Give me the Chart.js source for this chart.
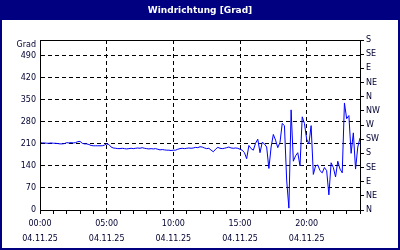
<!DOCTYPE html>
<html>
<head>
<meta charset="utf-8">
<style>
  html, body { margin: 0; padding: 0; background: #ffffff; }
  canvas { display: block; }
</style>
</head>
<body>
<canvas id="chart" width="400" height="250"></canvas>
<script src="https://cdn.jsdelivr.net/npm/chart.js@4/dist/chart.umd.min.js"></script>
<script>
const chartTitle = 'Windrichtung [Grad]';
const unitLabel = 'Grad';
const dateLabel = '04.11.25';

// one reading every 10 minutes, starting 00:00
const stepMinutes = 10;
const hourTicks = [0, 1, 2, 3, 4, 5, 6, 7, 8, 9, 10, 11, 12, 13, 14, 15, 16, 17, 18, 19, 20, 21, 22, 23, 24];
const labeledHours = [0, 5, 10, 15, 20];
const gradTicks = [0, 70, 140, 210, 280, 350, 420, 490];
const compassTicks = [0, 45, 90, 135, 180, 225, 270, 315, 360, 405, 450, 495, 540];
const compassLabels = ['N', 'NE', 'E', 'SE', 'S', 'SW', 'W', 'NW', 'N', 'NE', 'E', 'SE', 'S'];

const direction = [
  214, 213, 213, 212, 212, 213, 212, 212, 211, 210,
  210, 211, 214, 213, 214, 213, 214, 217, 218, 212,
  210, 210, 208, 205, 204, 204, 204, 204, 204, 206,
  210, 208, 200, 197, 196, 195, 195, 196, 195, 194,
  195, 196, 195, 196, 197, 196, 198, 196, 195, 194,
  195, 194, 195, 193, 191, 192, 191, 190, 190, 189,
  190, 190, 193, 195, 196, 195, 196, 197, 196, 197,
  199, 198, 201, 200, 197, 195, 196, 190, 185, 193,
  199, 196, 195, 196, 198, 200, 197, 196, 197, 196,
  193, 190, 182, 163, 205, 195, 190, 212, 225, 182,
  215, 210, 200, 132, 200, 240, 222, 198, 215, 275,
  268, 95, 6, 318, 155, 172, 182, 140, 296, 275,
  225, 210, 268, 113, 140, 143, 125, 118, 135, 125,
  48, 150, 135, 105, 155, 130, 118, 340, 290, 300,
  180, 245, 130, 200, 229,
];

const navy = '#000080';
const textColor = '#000033';
const gridColor = '#000000';

Chart.defaults.font.family = 'DejaVu Sans';
Chart.defaults.font.size = 8;
Chart.defaults.color = textColor;

const points = direction.map((value, i) => ({ x: (i * stepMinutes) / 60, y: value }));

function pad2(n) {
  return String(n).padStart(2, '0');
}

const frame = {
  id: 'frame',
  beforeDraw(chart) {
    const { ctx, width } = chart;
    ctx.save();
    ctx.fillStyle = '#ffffff';
    ctx.fillRect(0, 0, width, chart.height);
    ctx.fillStyle = navy;
    ctx.fillRect(0, 0, width, 20);
    ctx.restore();
  },
  afterDraw(chart) {
    const {
      ctx,
      chartArea: { left, top, right, bottom },
    } = chart;
    ctx.save();
    ctx.strokeStyle = '#000000';
    ctx.lineWidth = 1;
    ctx.strokeRect(left + 0.5, top + 0.5, right - left, bottom - top);

    ctx.fillStyle = textColor;
    ctx.font = '8px "DejaVu Sans"';
    ctx.textAlign = 'right';
    ctx.textBaseline = 'middle';
    ctx.fillText(unitLabel, left - 4, top + 5);

    ctx.strokeStyle = navy;
    ctx.lineWidth = 2;
    ctx.strokeRect(1, 1, chart.width - 2, chart.height - 2);
    ctx.restore();
  },
};

// eslint-disable-next-line no-unused-vars
const chart = new Chart(document.getElementById('chart'), {
  type: 'line',
  data: {
    datasets: [
      {
        data: points,
        borderColor: '#0000ff',
        borderWidth: 1,
        pointRadius: 0,
        tension: 0,
        fill: false,
        xAxisID: 'x',
        yAxisID: 'y',
      },
    ],
  },
  options: {
    responsive: false,
    devicePixelRatio: 1,
    animation: false,
    events: [],
    layout: {
      padding: { left: 0, right: 0, top: 0, bottom: 2 },
    },
    plugins: {
      legend: { display: false },
      tooltip: { enabled: false },
      title: {
        display: true,
        text: chartTitle,
        color: '#ffffff',
        font: { family: 'DejaVu Sans', size: 9, weight: 'bold', lineHeight: 1.2 },
        padding: { top: 5, bottom: 24.2 },
      },
    },
    scales: {
      x: {
        type: 'linear',
        position: 'bottom',
        min: 0,
        max: 24,
        afterBuildTicks: (scale) => {
          scale.ticks = hourTicks.map((v) => ({ value: v }));
        },
        afterFit: (scale) => {
          scale.height = 38;
        },
        ticks: {
          autoSkip: false,
          maxRotation: 0,
          padding: 2,
          font: { size: 8, lineHeight: 1.875 },
          callback: (value) => (labeledHours.includes(value) ? [`${pad2(value)}:00`, dateLabel] : ''),
        },
        grid: {
          color: (ctx) =>
            ctx.tick && ctx.tick.value !== 0 && labeledHours.includes(ctx.tick.value) ? gridColor : 'rgba(0,0,0,0)',
          tickColor: gridColor,
          tickLength: 4,
          lineWidth: 1,
        },
        border: { display: true, color: gridColor, dash: [4, 3] },
      },
      y: {
        position: 'left',
        min: 0,
        max: 540,
        afterBuildTicks: (scale) => {
          scale.ticks = gradTicks.map((v) => ({ value: v }));
        },
        afterFit: (scale) => {
          scale.width = 40;
        },
        ticks: {
          padding: 4,
        },
        grid: {
          color: (ctx) => (ctx.tick && ctx.tick.value !== 0 ? gridColor : 'rgba(0,0,0,0)'),
          drawTicks: false,
          lineWidth: 1,
        },
        border: { display: true, color: gridColor, dash: [4, 3] },
      },
      y2: {
        position: 'right',
        min: 0,
        max: 540,
        afterBuildTicks: (scale) => {
          scale.ticks = compassTicks.map((v) => ({ value: v }));
        },
        afterFit: (scale) => {
          scale.width = 40;
        },
        ticks: {
          padding: 2,
          callback: (value, index) => compassLabels[index],
        },
        grid: {
          drawOnChartArea: false,
          tickColor: gridColor,
          tickLength: 4,
        },
        border: { display: true, color: gridColor },
      },
    },
  },
  plugins: [frame],
});
</script>
</body>
</html>
